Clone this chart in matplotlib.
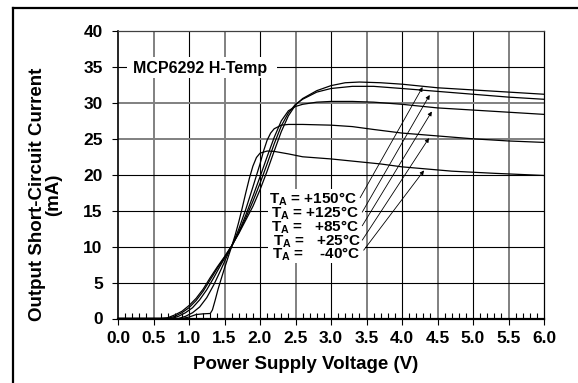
import numpy as np
import matplotlib
matplotlib.use('Agg')
import matplotlib.pyplot as plt
from matplotlib.lines import Line2D
from matplotlib.patches import Rectangle

plt.rcParams['font.family'] = ['Liberation Sans', 'DejaVu Sans']
plt.rcParams['font.weight'] = 'bold'
plt.rcParams['mathtext.fontset'] = 'custom'
plt.rcParams['mathtext.rm'] = 'Liberation Sans:bold'
plt.rcParams['mathtext.bf'] = 'Liberation Sans:bold'
plt.rcParams['mathtext.default'] = 'bf'

# short-circuit current (mA) vs supply voltage (V), one curve per temperature
v_150 = [0, 0.6, 0.7, 0.8, 0.9, 1.0, 1.1, 1.2, 1.3, 1.4, 1.5, 1.6, 1.7, 1.8, 1.9, 2.0, 2.1, 2.2, 2.3, 2.4,
         2.5, 2.6, 2.8, 3.0, 3.2, 3.4, 3.7, 4.0, 4.5, 5.0, 5.5, 6.0]
i_150 = [0, 0, 0.1, 0.5, 1.0, 1.8, 2.8, 4.1, 5.7, 7.2, 8.6, 10.1, 11.8, 13.7, 15.6, 17.9, 20.5, 23.3, 26.0, 28.2,
         29.7, 30.6, 31.7, 32.4, 32.8, 32.9, 32.8, 32.6, 32.1, 31.8, 31.5, 31.2]

v_125 = [0, 0.7, 0.8, 0.9, 1.0, 1.1, 1.2, 1.3, 1.4, 1.5, 1.6, 1.7, 1.8, 1.9, 2.0, 2.1, 2.2, 2.3, 2.4,
         2.5, 2.6, 2.8, 3.0, 3.3, 3.6, 4.0, 4.5, 5.0, 5.5, 6.0]
i_125 = [0, 0, 0.3, 0.8, 1.5, 2.5, 3.8, 5.4, 7.0, 8.5, 10.1, 11.9, 14.0, 16.3, 18.8, 21.5, 24.3, 26.8, 28.6,
         29.8, 30.5, 31.5, 32.0, 32.3, 32.3, 32.0, 31.6, 31.2, 30.8, 30.5]

v_85 = [0, 0.75, 0.85, 0.95, 1.05, 1.15, 1.25, 1.35, 1.45, 1.55, 1.6, 1.7, 1.8, 1.9, 2.0, 2.1, 2.2, 2.3, 2.4,
        2.5, 2.6, 2.8, 3.0, 3.3, 3.6, 4.0, 4.5, 5.0, 5.5, 6.0]
i_85 = [0, 0, 0.3, 0.8, 1.5, 2.6, 4.0, 5.7, 7.5, 9.2, 10.0, 12.0, 14.4, 17.0, 19.7, 22.5, 25.2, 27.5, 28.9,
        29.5, 29.8, 30.1, 30.2, 30.2, 30.1, 29.8, 29.3, 29.0, 28.7, 28.4]

v_25 = [0, 0.85, 0.95, 1.05, 1.15, 1.25, 1.35, 1.45, 1.55, 1.6, 1.7, 1.8, 1.9, 2.0, 2.05, 2.1, 2.15, 2.2, 2.3,
        2.4, 2.6, 3.0, 3.3, 3.6, 4.0, 4.5, 5.0, 5.5, 6.0]
i_25 = [0, 0, 0.3, 0.8, 1.6, 2.9, 4.7, 6.8, 9.0, 10.0, 12.4, 15.2, 18.3, 21.5, 23.3, 24.8, 25.8, 26.4, 26.9,
        27.0, 27.0, 26.9, 26.7, 26.3, 25.8, 25.4, 25.0, 24.7, 24.5]

v_m40 = [0, 0.9, 1.0, 1.1, 1.2, 1.3, 1.33, 1.37, 1.41, 1.45, 1.5, 1.55, 1.6, 1.65, 1.7, 1.75, 1.8, 1.85, 1.9,
         1.95, 2.0, 2.1, 2.2, 2.4, 2.6, 3.0, 3.3, 3.7, 4.0, 4.7, 5.3, 6.0]
i_m40 = [0, 0, 0.2, 0.55, 0.65, 0.7, 1.2, 2.6, 4.1, 5.4, 7.0, 8.5, 10.0, 11.6, 13.4, 15.4, 17.5, 19.5, 21.2,
         22.4, 23.0, 23.3, 23.25, 22.9, 22.5, 22.2, 21.9, 21.5, 21.1, 20.5, 20.2, 19.9]

curves = [(v_150, i_150), (v_125, i_125), (v_85, i_85), (v_25, i_25), (v_m40, i_m40)]

temp_labels = ['T$_A$ = +150°C', 'T$_A$ = +125°C', 'T$_A$ =   +85°C', 'T$_A$ =   +25°C', 'T$_A$ =    -40°C']
label_x = [3.37, 3.39, 3.40, 3.42, 3.42]
label_y = [15.97, 14.04, 12.1, 10.17, 8.3]
arrow_from = [(3.41, 16.8), (3.44, 14.8), (3.44, 12.9), (3.44, 10.9), (3.46, 9.5)]
arrow_to = [(4.29, 32.2), (4.39, 31.1), (4.42, 28.8), (4.38, 25.1), (4.31, 20.6)]

x_ticks = np.arange(0, 6.01, 0.5)
y_ticks = np.arange(0, 41, 5)

fig = plt.figure(figsize=(5.78, 3.83), dpi=100)
ax = fig.add_axes([118 / 578, 64.5 / 383, 426 / 578, 287.5 / 383])

ax.set_xlim(0, 6)
ax.set_ylim(0, 40)

# grid: every other line drawn lighter and wider
x_light = [x for x in x_ticks[1:-1] if int(round(x * 2)) % 2 == 1]
x_dark = [x for x in x_ticks[1:-1] if int(round(x * 2)) % 2 == 0]
y_light = [25, 30]
y_dark = [5, 10, 15, 20, 35]
ax.vlines(x_light, 0, 40, colors='#808080', linewidths=1.4, zorder=2)
ax.vlines(x_dark, 0, 40, colors='black', linewidths=0.8, zorder=2)
ax.hlines(y_light, 0, 6, colors='#808080', linewidths=1.4, zorder=2)
ax.hlines(y_dark, 0, 6, colors='black', linewidths=0.8, zorder=2)

for v, i in curves:
    ax.plot(v, i, color='black', lw=0.9, zorder=3)

ax.set_xticks(x_ticks)
ax.set_xticklabels([f'{x:.1f}' for x in x_ticks])
ax.set_yticks(y_ticks)
ax.set_xticks(np.arange(0, 6.01, 0.1), minor=True)
ax.tick_params(axis='x', which='major', direction='out', length=4, width=0.8, pad=5, labelsize=12.5)
ax.tick_params(axis='x', which='minor', direction='in', length=4, width=0.8)
ax.tick_params(axis='y', which='major', direction='out', length=4, width=0.8, pad=7, labelsize=12.5)

ax.spines['bottom'].set_linewidth(1.6)
ax.spines['left'].set_linewidth(1.2)
ax.spines['top'].set_linewidth(0.9)
ax.spines['right'].set_linewidth(0.9)
ax.spines['top'].set_color('#404040')

ax.set_xlabel('Power Supply Voltage (V)', fontsize=13.5, fontweight='bold')
ax.xaxis.set_label_coords(0.44, -0.13)
ax.set_ylabel('Output Short-Circuit Current\n(mA)', fontsize=13.5, fontweight='bold', linespacing=1.0)
ax.yaxis.set_label_coords(-0.13, 0.431)

# device name, on a white patch that breaks the grid
ax.add_patch(Rectangle((0.127, 33.4), 2.11, 3.0, facecolor='white', edgecolor='none', zorder=2.5))
ax.text(1.155, 34.85, 'MCP6292 H-Temp', fontsize=11.5, fontweight='bold', ha='center', va='center', zorder=4)

# temperature legend block
ax.add_patch(Rectangle((2.11, 7.7), 1.37, 10.3, facecolor='white', edgecolor='none', zorder=2.5))
for txt, x, y in zip(temp_labels, label_x, label_y):
    ax.text(x, y, txt, fontsize=11, fontweight='bold', ha='right', va='baseline', zorder=4)

for (x0, y0), (x1, y1) in zip(arrow_from, arrow_to):
    ax.annotate('', xy=(x1, y1), xytext=(x0, y0), zorder=5,
                arrowprops=dict(arrowstyle='-|>', lw=0.6, color='black', mutation_scale=6,
                                shrinkA=0, shrinkB=0))

# outer frame around the figure
fig.add_artist(Line2D([13 / 578, 13 / 578], [0, 375 / 383], color='black', lw=1.6))
fig.add_artist(Line2D([13 / 578, 1], [375 / 383, 375 / 383], color='black', lw=1.6))

fig.savefig('out.png', dpi=100)
